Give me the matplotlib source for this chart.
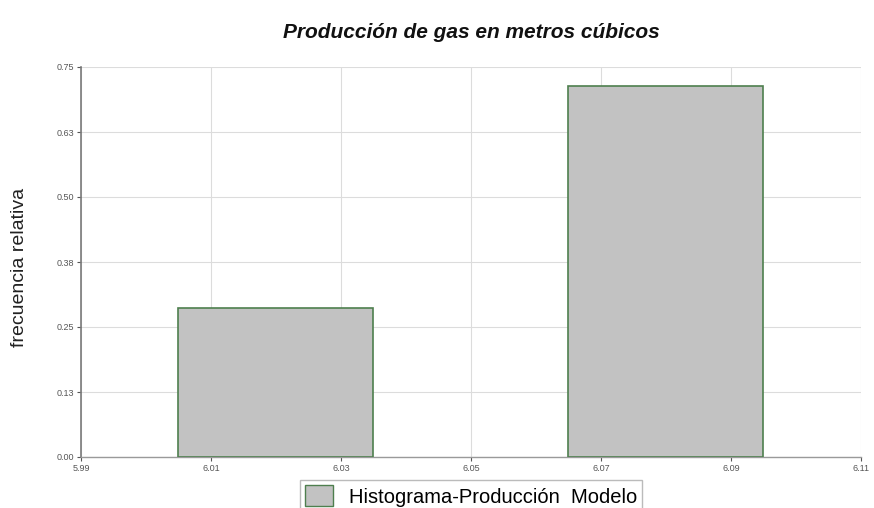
import matplotlib
matplotlib.use("Agg")
import matplotlib.pyplot as plt
from matplotlib.patches import Patch

plt.rcParams["font.family"] = ["Liberation Sans", "DejaVu Sans"]

# Histogram data: bin centres and relative frequencies
bin_centers = [6.02, 6.08]
rel_freq = [0.286, 0.714]
bin_width = 0.03

x_ticks = [5.99, 6.01, 6.03, 6.05, 6.07, 6.09, 6.11]
y_ticks = [0.0, 0.125, 0.25, 0.375, 0.5, 0.625, 0.75]
y_tick_labels = ["0.00", "0.13", "0.25", "0.38", "0.50", "0.63", "0.75"]

title = "Producción de gas en metros cúbicos"
y_label = "frecuencia relativa"
legend_label = "Histograma-Producción  Modelo"

fig = plt.figure(figsize=(8.74, 5.08), dpi=100)
ax = fig.add_axes([81 / 874, 1 - 457 / 508, 780 / 874, 390 / 508])

ax.bar(bin_centers, rel_freq, width=bin_width, color="#c2c2c2",
       edgecolor="#4e7f4e", linewidth=1.2, zorder=3)

ax.set_xlim(x_ticks[0], x_ticks[-1])
ax.set_ylim(0, 0.75)
ax.set_xticks(x_ticks)
ax.set_yticks(y_ticks)
ax.set_xticklabels([f"{v:.2f}" for v in x_ticks])
ax.set_yticklabels(y_tick_labels)
ax.tick_params(labelsize=6.5, colors="#555555", length=3, width=0.8, pad=2)

ax.grid(True, color="#dcdcdc", linewidth=0.8, zorder=0)
for s in ("top", "right"):
    ax.spines[s].set_visible(False)
ax.spines["left"].set_color("#7a7a7a")
ax.spines["bottom"].set_color("#9a9a9a")
ax.spines["left"].set_linewidth(1.2)
ax.spines["bottom"].set_linewidth(1.0)

fig.text(20 / 874, 1 - 267 / 508, y_label, rotation=90, ha="center",
         va="center", fontsize=14, color="#222222")
fig.text(471 / 874, 1 - 32 / 508, title, ha="center", va="center",
         fontsize=15, fontweight="bold", fontstyle="italic", color="#111111")

handle = Patch(facecolor="#c2c2c2", edgecolor="#4e7f4e", linewidth=1.0)
fig.legend([handle], [legend_label], loc="center",
           bbox_to_anchor=(471 / 874, 1 - 496 / 508), fontsize=14.5,
           frameon=True, fancybox=False, edgecolor="#aaaaaa",
           handlelength=1.4, handleheight=1.2, borderpad=0.25,
           handletextpad=0.8)

fig.savefig("out.png", dpi=100)
